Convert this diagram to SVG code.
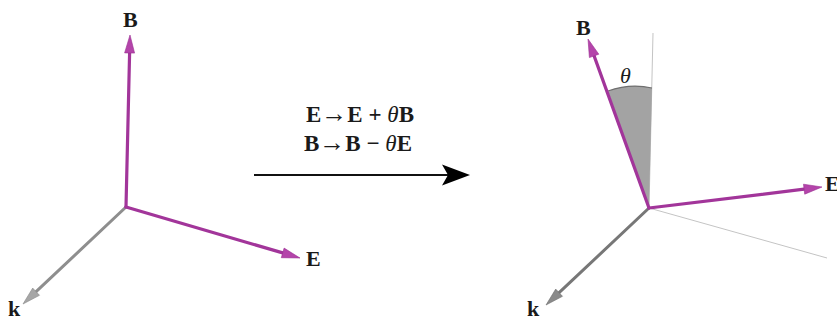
<svg xmlns="http://www.w3.org/2000/svg" width="837" height="321" viewBox="0 0 837 321">
<style>
.lbl{font-family:"Liberation Serif","Times New Roman",serif;font-weight:bold;font-size:22px;fill:#1a1a1a}
.eq{font-family:"Liberation Serif","Times New Roman",serif;font-weight:bold;font-size:23px;fill:#1a1a1a}
.ar{font-weight:normal;font-size:26px}
.th{font-weight:normal;font-style:italic}
.mshaft{stroke:#a2359a;stroke-width:3.2;stroke-linecap:round;fill:none}
.mhead{fill:#b444aa;stroke:#9a2f92;stroke-width:0.6}
.gshaft{stroke:#8e8e8e;stroke-width:3;stroke-linecap:round;fill:none}
.ghead{fill:#a6a6a6;stroke:#888;stroke-width:0.6}
.gshaft2{stroke:#777;stroke-width:3;stroke-linecap:round;fill:none}
.ghead2{fill:#8a8a8a;stroke:#6e6e6e;stroke-width:0.6}
.thin{stroke:#c4c4c4;stroke-width:1;fill:none}
</style>
<g id="left-frame">
  <g id="left-k">
    <line class="gshaft" x1="126" y1="207" x2="36.1" y2="291.7"/>
    <polygon class="ghead" points="23,304 39.5,295.3 32.7,288.1"/>
    <text class="lbl" x="8" y="316">k</text>
  </g>
  <g id="left-B">
    <line class="mshaft" x1="126" y1="207" x2="129.6" y2="53"/>
    <polygon class="mhead" points="130,35 134.6,53.1 124.6,52.9"/>
    <text class="lbl" x="123" y="27">B</text>
  </g>
  <g id="left-E">
    <line class="mshaft" x1="126" y1="207" x2="282.7" y2="252.9"/>
    <polygon class="mhead" points="300,258 281.3,257.7 284.1,248.1"/>
    <text class="lbl" x="306" y="266">E</text>
  </g>
</g>
<g id="transform">
  <text class="eq" x="360" y="122" text-anchor="middle">E<tspan class="ar">→</tspan>E + <tspan class="th">θ</tspan>B</text>
  <text class="eq" x="358" y="150.5" text-anchor="middle">B<tspan class="ar">→</tspan>B − <tspan class="th">θ</tspan>E</text>
</g>
<g id="connectors">
  <line x1="254" y1="175" x2="450" y2="175" stroke="#111" stroke-width="2.2"/>
  <path d="M470,175 L442,164.5 L448,175 L442,185.5 Z" fill="#000"/>
</g>
<g id="right-frame">
  <line class="thin" x1="649" y1="208" x2="653" y2="33"/>
  <line class="thin" x1="649" y1="208" x2="827" y2="258"/>
  <g id="angle-theta">
    <path d="M649,208 L608,91 Q630,83 652,88 Z" fill="#a3a3a3"/>
    <path d="M608,91 Q630,83 652,88" fill="none" stroke="#6f6f6f" stroke-width="1.2"/>
    <text x="620" y="83" font-family="Liberation Serif,'Times New Roman',serif" font-style="italic" font-size="22" fill="#1a1a1a">θ</text>
  </g>
  <g id="right-k">
    <line class="gshaft2" x1="649" y1="208" x2="559.1" y2="292.7"/>
    <polygon class="ghead2" points="546,305 562.5,296.3 555.7,289.1"/>
    <text class="lbl" x="527" y="316">k</text>
  </g>
  <g id="right-B">
    <line class="mshaft" x1="649" y1="208" x2="594.1" y2="55.9"/>
    <polygon class="mhead" points="588,39 598.8,54.2 589.4,57.6"/>
    <text class="lbl" x="576" y="35">B</text>
  </g>
  <g id="right-E">
    <line class="mshaft" x1="649" y1="208" x2="804.1" y2="189.2"/>
    <polygon class="mhead" points="822,187 804.7,194.2 803.5,184.2"/>
    <text class="lbl" x="825" y="191">E</text>
  </g>
</g>
</svg>
